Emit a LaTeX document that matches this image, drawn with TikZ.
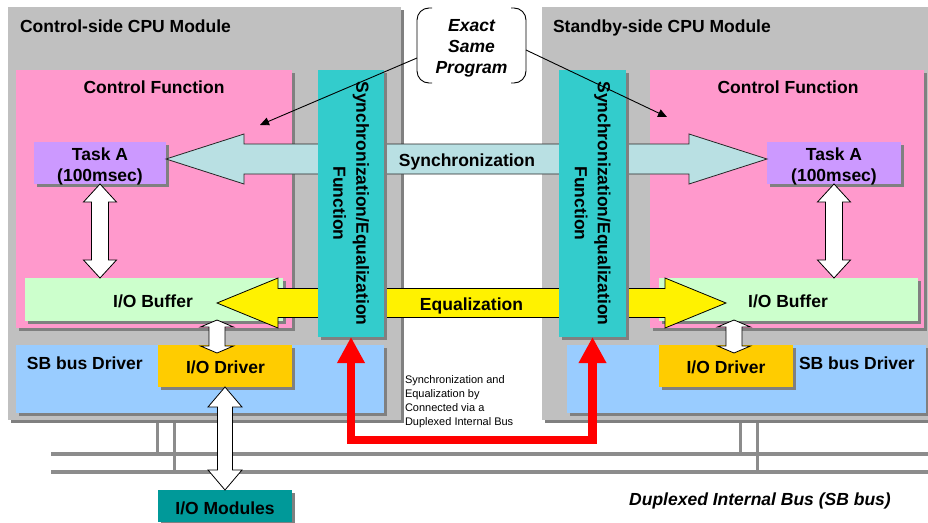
\documentclass[tikz,border=0pt]{standalone}
\usepackage{fontspec}
\setmainfont{Liberation Sans}
\usetikzlibrary{arrows.meta,shadows,calc}
\definecolor{modgray}{HTML}{C0C0C0}
\definecolor{shgray}{HTML}{808080}
\definecolor{cfpink}{HTML}{FF99CC}
\definecolor{taskpur}{HTML}{CC99FF}
\definecolor{syncteal}{HTML}{33CCCC}
\definecolor{bufgreen}{HTML}{CCFFCC}
\definecolor{sbblue}{HTML}{99CCFF}
\definecolor{drvorange}{HTML}{FFCC00}
\definecolor{iomteal}{HTML}{009999}
\definecolor{syncarrfill}{HTML}{B9E0E3}
\definecolor{busgray}{HTML}{8C8C8C}
\newcommand\hdblarrow[6]{%
 \draw[#1] let \p1=(#2), \p2=(#3) in (\p1) -- ({\x1+#4pt},{\y1+#5pt}) -- ({\x1+#4pt},{\y1+#6pt}) -- ({\x2-#4pt},{\y1+#6pt}) -- ({\x2-#4pt},{\y1+#5pt}) -- (\p2) -- ({\x2-#4pt},{\y1-#5pt}) -- ({\x2-#4pt},{\y1-#6pt}) -- ({\x1+#4pt},{\y1-#6pt}) -- ({\x1+#4pt},{\y1-#5pt}) -- cycle;}
\newcommand\vdblarrow[6]{%
 \draw[#1] let \p1=(#2), \p2=(#3) in (\p1) -- ({\x1+#5pt},{\y1-#4pt}) -- ({\x1+#6pt},{\y1-#4pt}) -- ({\x1+#6pt},{\y2+#4pt}) -- ({\x1+#5pt},{\y2+#4pt}) -- (\x1,\y2) -- ({\x1-#5pt},{\y2+#4pt}) -- ({\x1-#6pt},{\y2+#4pt}) -- ({\x1-#6pt},{\y1-#4pt}) -- ({\x1-#5pt},{\y1-#4pt}) -- cycle;}
\tikzset{
 box/.style={inner sep=0pt, outer sep=0pt, anchor=north west, draw=none,
   general shadow={fill=shgray, shadow xshift=3pt, shadow yshift=-3pt}},
 lbl/.style={inner sep=0pt, outer sep=0pt, font=\fontsize{17.5}{21.5}\selectfont\bfseries},
 notetxt/.style={inner sep=0pt, outer sep=0pt, align=left, font=\fontsize{11}{14}\selectfont},
 syncarr/.style={fill=syncarrfill, draw=black!85, line width=0.8pt, line join=miter},
 eqarr/.style={fill=yellow, draw=black, line width=0.8pt, line join=miter},
 whitearr/.style={fill=white, draw=black, line width=0.8pt, line join=miter},
 redarr/.style={draw=red, line width=8.5pt, line join=miter,
   {Triangle[width=26pt,length=26pt]}-{Triangle[width=26pt,length=26pt]}},
 bus/.style={draw=busgray, line width=4pt},
 stub/.style={draw=busgray, line width=3pt},
 callline/.style={draw=black, line width=0.9pt, -{Triangle[width=8pt,length=9pt]}},
 bracket/.style={draw=black, line width=0.9pt, rounded corners=12pt},
}
\begin{document}
\begin{tikzpicture}[x=1pt,y=-1pt]
\useasboundingbox (0,0) rectangle (928,522);
% modules
\node[box, fill=modgray, minimum width=393pt, minimum height=413pt] (modL) at (8,7) {};
\node[box, fill=modgray, minimum width=390pt, minimum height=413pt] (modR) at (542,7) {};
\node[lbl, anchor=base west] (titL) at (20,32) {Control-side CPU Module};
\node[lbl, anchor=base west] (titR) at (553,32) {Standby-side CPU Module};
% control function areas
\node[box, fill=cfpink, minimum width=276pt, minimum height=258pt] (cfL) at (16,70) {};
\node[box, fill=cfpink, minimum width=274pt, minimum height=258pt] (cfR) at (650,70) {};
\node[lbl, anchor=base] (cftL) at (154,93) {Control Function};
\node[lbl, anchor=base] (cftR) at (788,93) {Control Function};
% boxes
\node[box, fill=bufgreen, minimum width=258pt, minimum height=43pt] (bufL) at (25,278) {};
\node[box, fill=bufgreen, minimum width=259pt, minimum height=43pt] (bufR) at (659,278) {};
\node[lbl, anchor=base] at (153,307) {I/O Buffer};
\node[lbl, anchor=base] at (788,307) {I/O Buffer};
\node[box, fill=sbblue, minimum width=368pt, minimum height=68pt] (sbL) at (16,345) {};
\node[box, fill=sbblue, minimum width=359pt, minimum height=68pt] (sbR) at (567,345) {};
\node[lbl, anchor=base west] at (27,369) {SB bus Driver};
\node[lbl, anchor=base west] at (799,369) {SB bus Driver};
\node[box, fill=drvorange, minimum width=134pt, minimum height=42pt] (drvL) at (158,345) {};
\node[box, fill=drvorange, minimum width=134pt, minimum height=42pt] (drvR) at (659,345) {};
\node[lbl, anchor=base] at (225.5,373) {I/O Driver};
\node[lbl, anchor=base] at (726,373) {I/O Driver};
\node[box, fill=taskpur, minimum width=132pt, minimum height=42pt] (taskL) at (34,142) {};
\node[box, fill=taskpur, minimum width=134pt, minimum height=42pt] (taskR) at (767,142) {};
\node[lbl, align=center] at (100,166.5) {Task A\\(100msec)};
\node[lbl, align=center] at (834,166.5) {Task A\\(100msec)};
\node[box, fill=iomteal, minimum width=134pt, minimum height=32pt] (iom) at (158,490) {};
\node[lbl, anchor=base] at (225,514) {I/O Modules};
% bus
\draw[bus] (51,454) -- (928,454);
\draw[bus] (51,472) -- (928,472);
\draw[stub] (157,423) -- (157,454);
\draw[stub] (174,423) -- (174,472);
\draw[stub] (740,423) -- (740,454);
\draw[stub] (757,423) -- (757,472);
% synchronization / equalization arrows
\coordinate (sL) at ([yshift=4pt]taskL.east);
\coordinate (sR) at ([yshift=4pt]taskR.west);
\hdblarrow{syncarr}{sL}{sR}{78}{25}{15}
\coordinate (eL) at (217,303);
\coordinate (eR) at (726,303);
\hdblarrow{eqarr}{eL}{eR}{61}{25}{14.5}
% sync function boxes
\node[box, fill=syncteal, minimum width=66pt, minimum height=267pt] (syncL) at (318,70) {};
\node[box, fill=syncteal, minimum width=67pt, minimum height=267pt] (syncR) at (559,70) {};
\node[lbl, rotate=-90, align=center, font=\fontsize{17.5}{23}\selectfont\bfseries] at (syncL.center) {Synchronization/Equalization\\Function};
\node[lbl, rotate=-90, align=center, font=\fontsize{17.5}{23}\selectfont\bfseries] at (syncR.center) {Synchronization/Equalization\\Function};
\node[lbl, anchor=base] at (467,166.5) {Synchronization};
\node[lbl, anchor=base] at (471.5,310) {Equalization};
% white arrows
\vdblarrow{whitearr}{taskL.south}{taskL.south |- bufL.north}{18}{16.5}{8.5}
\vdblarrow{whitearr}{taskR.south}{taskR.south |- bufR.north}{18}{16.5}{8.5}
\coordinate (ioaT) at (217,320); \coordinate (ioaB) at (217,353);
\coordinate (iobT) at (734,320); \coordinate (iobB) at (734,353);
\vdblarrow{whitearr}{ioaT}{ioaB}{7}{16.5}{8}
\vdblarrow{whitearr}{iobT}{iobB}{7}{16.5}{8}
\vdblarrow{whitearr}{drvL.south}{iom.north}{20}{17}{7.5}
% red arrow
\draw[redarr] (syncL.south) -- ++(0,103) -| (syncR.south);
\node[notetxt, anchor=west] (note) at (405,402) {Synchronization and\\Equalization by\\Connected via a\\Duplexed Internal Bus};
\node[lbl, anchor=base, font=\fontsize{17.5}{21.5}\selectfont\bfseries\itshape] (busl) at (760,505) {Duplexed Internal Bus (SB bus)};
% callout
\node[inner sep=0pt, outer sep=0pt, minimum width=109pt, minimum height=75pt] (prog) at (471.5,45.5) {};
\node[lbl, align=center, font=\fontsize{17.5}{21}\selectfont\bfseries\itshape] (progtxt) at (471.5,48.5) {Exact\\Same\\Program};
\draw[bracket] ([xshift=15pt]prog.north west) -- (prog.north west) -- (prog.south west) -- ([xshift=15pt]prog.south west);
\draw[bracket] ([xshift=-15pt]prog.north east) -- (prog.north east) -- (prog.south east) -- ([xshift=-15pt]prog.south east);
\coordinate (pL) at (260,125);
\coordinate (pR) at (667,117);
\draw[callline] ([yshift=-12.5pt]prog.west) -- (pL);
\draw[callline] ([yshift=-4.5pt]prog.east) -- (pR);
\end{tikzpicture}
\end{document}
